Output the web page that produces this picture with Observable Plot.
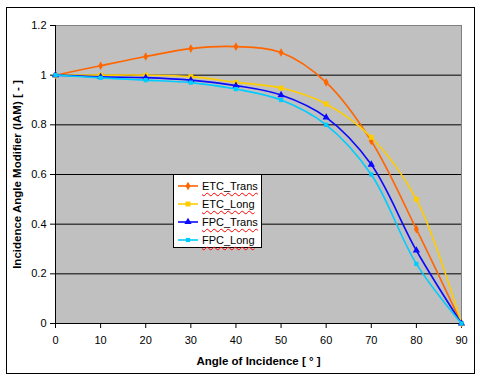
<!DOCTYPE html>
<html>
<head>
<meta charset="utf-8">
<script src="https://cdn.jsdelivr.net/npm/d3@7"></script>
<script src="https://cdn.jsdelivr.net/npm/@observablehq/plot@0.6"></script>
<style>
  body { margin: 0; background: #fff; }
  #wrap { position: relative; width: 480px; height: 379px; font-family: "Liberation Sans", Arial, sans-serif; }
  #border { position: absolute; left: 6px; top: 7px; width: 467px; height: 365px; border: 1px solid #000; pointer-events: none; }
  #legend { position: absolute; left: 173px; top: 174px; width: 87px; height: 72px; border: 1px solid #000; background: #fff; }
  .item { position: absolute; left: 0; height: 16px; display: flex; align-items: center; }
  .item span { font-size: 11px; color: #000; text-decoration: underline wavy red; text-decoration-thickness: 1px; text-underline-offset: 2px; margin-left: 2px; }
</style>
</head>
<body>
<div id="wrap">
  <div id="chart"></div>
  <div id="border"></div>
  <div id="legend"></div>
</div>
<script>
const angles = [0, 10, 20, 30, 40, 50, 60, 70, 80, 90];
const etcTrans = [1.0, 1.038, 1.075, 1.107, 1.115, 1.091, 0.971, 0.735, 0.38, 0];
const etcLong  = [1.0, 1.0, 1.0, 0.994, 0.971, 0.948, 0.884, 0.75, 0.50, 0];
const fpcTrans = [1.0, 0.993, 0.99, 0.98, 0.958, 0.92, 0.83, 0.64, 0.294, 0];
const fpcLong  = [1.0, 0.989, 0.98, 0.97, 0.944, 0.90, 0.80, 0.60, 0.24, 0];
const seriesNames = ["ETC_Trans", "ETC_Long", "FPC_Trans", "FPC_Long"];
const seriesColors = ["#FF6600", "#FFCC00", "#0A0AFF", "#00CCFF"];
const seriesSymbols = ["diamond", "square", "triangle", "square"];
const seriesR = [2.6, 2.8, 2.7, 2.4];
const xTicks = [0, 10, 20, 30, 40, 50, 60, 70, 80, 90];
const yTicks = [0, 0.2, 0.4, 0.6, 0.8, 1.0, 1.2];
const gridVals = [0.2, 0.4, 0.6, 0.8, 1.0];
const xTitle = "Angle of Incidence [ ° ]";
const yTitle = "Incidence Angle Modifier (IAM) [ - ]";

const valuesList = [etcTrans, etcLong, fpcTrans, fpcLong];
const rows = [];
valuesList.forEach((vals, si) => vals.forEach((v, i) => rows.push({series: seriesNames[si], idx: si, x: angles[i], y: v})));

const fmt = d => String(+d.toFixed(1));

const marks = [
  Plot.frame({fill: "#C0C0C0", stroke: "none"}),
  Plot.ruleY(gridVals, {stroke: "#000", strokeWidth: 1}),
  Plot.frame({stroke: "#808080", strokeWidth: 1}),
  Plot.ruleX([0], {stroke: "#000"}),
  Plot.ruleY([0], {stroke: "#000"}),
  Plot.axisX({ticks: xTicks, tickSize: 5, tickPadding: 8, tickFormat: d => String(d), label: null, fontSize: 11}),
  Plot.axisY({ticks: yTicks, tickSize: 5, tickPadding: 4, tickFormat: fmt, label: null, fontSize: 11}),
];
seriesNames.forEach((name, si) => {
  const data = rows.filter(r => r.idx === si);
  marks.push(Plot.line(data, {x: "x", y: "y", stroke: seriesColors[si], strokeWidth: 1.6, curve: "catmull-rom"}));
  marks.push(Plot.dot(data, {x: "x", y: "y", symbol: seriesSymbols[si], r: seriesR[si], fill: seriesColors[si], stroke: "none"}));
});
marks.push(Plot.text([xTitle], {frameAnchor: "bottom", dy: 41, fontWeight: "bold", fontSize: 11.5, fill: "#000"}));
marks.push(Plot.text([yTitle], {frameAnchor: "left", textAnchor: "middle", dx: -38, rotate: -90, fontWeight: "bold", fontSize: 11.5, fill: "#000"}));

const chart = Plot.plot({
  width: 480,
  height: 379,
  marginLeft: 55,
  marginRight: 19,
  marginTop: 25,
  marginBottom: 56,
  style: {fontFamily: "'Liberation Sans', Arial, sans-serif", fontSize: "11px", background: "transparent", color: "#000"},
  x: {domain: [0, 90]},
  y: {domain: [0, 1.2]},
  marks
});
document.getElementById("chart").appendChild(chart);

// legend
const legend = document.getElementById("legend");
const symbolTypes = {diamond: d3.symbolDiamond, square: d3.symbolSquare, triangle: d3.symbolTriangle};
const itemTops = [3, 21, 39, 57];
seriesNames.forEach((name, si) => {
  const item = document.createElement("div");
  item.className = "item";
  item.style.top = itemTops[si] + "px";
  const gen = d3.symbol(symbolTypes[seriesSymbols[si]], Math.PI * seriesR[si] * seriesR[si]);
  item.innerHTML = `<svg width="26" height="16"><line x1="4" x2="24" y1="8" y2="8" stroke="${seriesColors[si]}" stroke-width="1.6"/><path transform="translate(14,8)" d="${gen()}" fill="${seriesColors[si]}"/></svg><span>${name}</span>`;
  legend.appendChild(item);
});
</script>
</body>
</html>
